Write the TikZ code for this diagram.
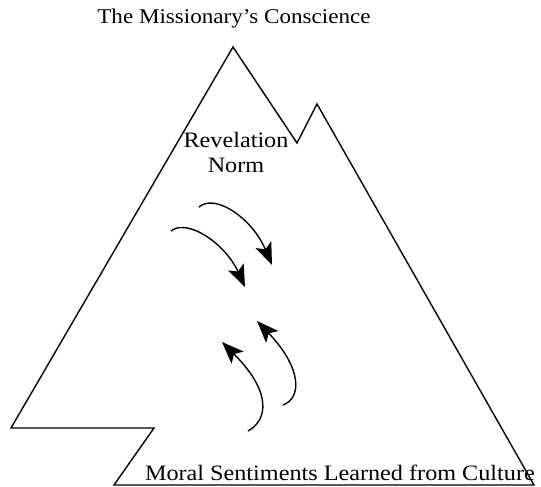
\documentclass[tikz,border=0pt]{standalone}
\usepackage{fontspec}
\setmainfont[FakeStretch=1.1]{Liberation Serif}
\usetikzlibrary{arrows.meta}
\tikzset{
  outline/.style={line width=1.4pt, line join=miter},
  flow/.style={line width=1.4pt, -{Stealth[length=22pt,width=17pt,inset=5pt]}},
  label/.style={inner sep=0pt, font=\fontsize{22}{24}\selectfont}
}
\begin{document}
\begin{tikzpicture}[x=1pt,y=-1pt]
\useasboundingbox (0,0) rectangle (541,487);
% mountain outline
\draw[outline] (233,47) -- (297,143) -- (317,104) -- (534,485) -- (114,485) -- (154,428) -- (11,428) -- cycle;
% texts
\node[label, font=\fontsize{21}{23}\selectfont] (title) at (234,18) {The Missionary's Conscience};
\node[label] (rev) at (236,140) {Revelation};
\node[label] (norm) at (236,165) {Norm};
\node[label, anchor=east] (moral) at (535,473) {Moral Sentiments Learned from Culture};
% arrow end points
\coordinate (a1s) at (199,207); \coordinate (a1e) at (272,265);
\coordinate (a2s) at (171,231); \coordinate (a2e) at (245,287);
\coordinate (a3s) at (283,405); \coordinate (a3e) at (257,321);
\coordinate (a4s) at (248,431); \coordinate (a4e) at (222,342);
% arrows
\draw[flow] (a1s) .. controls (215,193) and (252,218) .. (a1e);
\draw[flow] (a2s) .. controls (187,218) and (225,243) .. (a2e);
\draw[flow] (a3s) .. controls (302,398) and (302,368) .. (a3e);
\draw[flow] (a4s) .. controls (268,420) and (272,392) .. (a4e);
\end{tikzpicture}
\end{document}
